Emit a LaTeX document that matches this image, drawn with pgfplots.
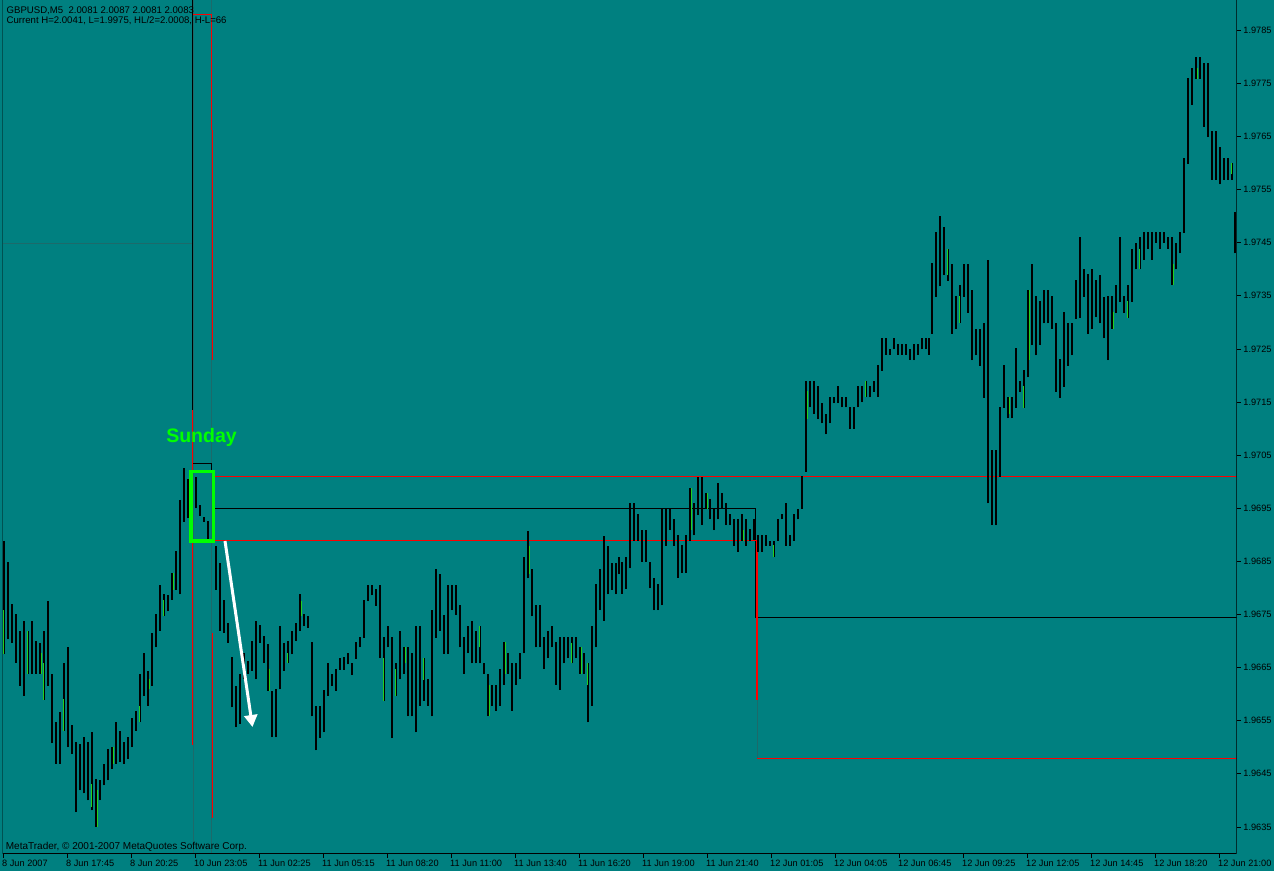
\documentclass[border=0pt]{standalone}
\usepackage{pgfplots}
\pgfplotsset{compat=1.18}
\usepackage{pgfplotstable}
\usepackage{fontspec}
\setmainfont{Liberation Sans}
\usetikzlibrary{arrows.meta}

\definecolor{mtbg}{HTML}{008080}
\definecolor{mtgreen}{HTML}{00FF00}
\definecolor{bargreen}{HTML}{22D022}
\definecolor{mtred}{HTML}{FF0000}
\definecolor{sepline}{HTML}{1C6A6A}

% GBPUSD M5 bars (pairs of bars merged): x position, low, high
\pgfplotstableread{
x lo hi
4.3 1.96675 1.96888
8.3 1.96703 1.96849
12.3 1.96697 1.96769
16.3 1.96659 1.96750
20.3 1.96616 1.96719
24.3 1.96597 1.96738
28.3 1.96638 1.96719
32.3 1.96638 1.96738
36.3 1.96638 1.96700
40.3 1.96638 1.96697
44.3 1.96589 1.96719
48.3 1.96616 1.96776
52.3 1.96508 1.96638
56.3 1.96469 1.96548
60.3 1.96469 1.96566
64.3 1.96531 1.96659
68.3 1.96500 1.96689
72.3 1.96488 1.96541
76.3 1.96378 1.96509
80.3 1.96419 1.96506
84.3 1.96413 1.96519
88.3 1.96400 1.96509
92.3 1.96381 1.96528
96.3 1.96350 1.96441
100.3 1.96400 1.96438
104.3 1.96428 1.96469
108.3 1.96438 1.96497
112.3 1.96459 1.96500
116.3 1.96469 1.96547
120.3 1.96472 1.96531
124.3 1.96469 1.96509
128.3 1.96478 1.96519
132.3 1.96500 1.96556
136.3 1.96531 1.96569
140.3 1.96547 1.96638
144.3 1.96597 1.96678
148.3 1.96578 1.96644
152.3 1.96616 1.96716
156.3 1.96688 1.96750
160.3 1.96719 1.96806
164.3 1.96747 1.96788
168.3 1.96756 1.96786
172.3 1.96778 1.96828
176.3 1.96797 1.96869
180.3 1.96788 1.96966
184.3 1.96925 1.97025
188.3 1.96931 1.97006
196.3 1.96950 1.97009
200.3 1.96936 1.96956
204.3 1.96925 1.96934
208.3 1.96888 1.96926
216.3 1.96797 1.96878
220.3 1.96719 1.96847
224.3 1.96716 1.96778
228.3 1.96697 1.96734
232.3 1.96575 1.96669
236.3 1.96538 1.96616
240.3 1.96544 1.96638
244.3 1.96628 1.96678
248.3 1.96638 1.96663
252.3 1.96644 1.96700
256.3 1.96628 1.96738
260.3 1.96697 1.96731
264.3 1.96659 1.96709
268.3 1.96606 1.96694
272.3 1.96519 1.96606
276.3 1.96519 1.96609
280.3 1.96609 1.96728
284.3 1.96644 1.96697
288.3 1.96659 1.96700
292.3 1.96675 1.96719
296.3 1.96700 1.96734
300.3 1.96719 1.96788
304.3 1.96728 1.96750
308.3 1.96725 1.96747
312.3 1.96558 1.96698
316.3 1.96494 1.96578
320.3 1.96518 1.96578
324.3 1.96528 1.96608
328.3 1.96597 1.96658
332.3 1.96616 1.96638
336.3 1.96606 1.96647
340.3 1.96646 1.96668
344.3 1.96646 1.96669
348.3 1.96656 1.96677
352.3 1.96636 1.96658
356.3 1.96667 1.96698
360.3 1.96688 1.96708
364.3 1.96706 1.96777
368.3 1.96775 1.96806
372.3 1.96786 1.96806
376.3 1.96766 1.96798
380.3 1.96668 1.96806
384.3 1.96588 1.96708
388.3 1.96688 1.96728
392.3 1.96517 1.96708
396.3 1.96597 1.96658
400.3 1.96628 1.96719
404.3 1.96638 1.96689
408.3 1.96558 1.96689
412.3 1.96558 1.96677
416.3 1.96528 1.96728
420.3 1.96578 1.96728
424.3 1.96588 1.96668
428.3 1.96578 1.96628
432.3 1.96558 1.96758
436.3 1.96706 1.96836
440.3 1.96719 1.96826
444.3 1.96676 1.96749
448.3 1.96676 1.96806
452.3 1.96758 1.96806
456.3 1.96749 1.96806
460.3 1.96688 1.96768
464.3 1.96638 1.96708
468.3 1.96677 1.96728
472.3 1.96658 1.96738
476.3 1.96658 1.96718
480.3 1.96658 1.96728
484.3 1.96638 1.96658
488.3 1.96558 1.96638
492.3 1.96578 1.96618
496.3 1.96569 1.96618
500.3 1.96578 1.96647
504.3 1.96618 1.96698
508.3 1.96638 1.96677
512.3 1.96569 1.96658
516.3 1.96618 1.96658
520.3 1.96628 1.96677
524.3 1.96677 1.96858
528.3 1.96818 1.96908
532.3 1.96747 1.96836
536.3 1.96688 1.96767
540.3 1.96688 1.96767
544.3 1.96647 1.96708
548.3 1.96668 1.96718
552.3 1.96688 1.96728
556.3 1.96618 1.96698
560.3 1.96608 1.96708
564.3 1.96658 1.96708
568.3 1.96668 1.96708
572.3 1.96658 1.96708
576.3 1.96668 1.96708
580.3 1.96638 1.96688
584.3 1.96638 1.96678
588.3 1.96547 1.96658
592.3 1.96578 1.96728
596.3 1.96688 1.96808
600.3 1.96758 1.96836
604.3 1.96738 1.96897
608.3 1.96788 1.96878
612.3 1.96797 1.96847
616.3 1.96788 1.96847
619.3 1.96826 1.96858
622.3 1.96789 1.96849
626.3 1.96798 1.96858
630.3 1.96837 1.96959
634.3 1.96889 1.96959
638.3 1.96889 1.96939
642.3 1.96849 1.96909
646.3 1.96849 1.96909
650.3 1.96799 1.96849
654.3 1.96758 1.96818
658.3 1.96758 1.96808
662.3 1.96767 1.96949
666.3 1.96879 1.96949
670.3 1.96909 1.96949
674.3 1.96879 1.96929
678.3 1.96819 1.96899
682.3 1.96829 1.96880
686.3 1.96829 1.96899
690.3 1.96889 1.96989
694.3 1.96899 1.96959
698.3 1.96937 1.97009
702.3 1.96918 1.97009
706.3 1.96949 1.96979
710.3 1.96929 1.96968
714.3 1.96909 1.96949
718.3 1.96929 1.96998
722.3 1.96949 1.96979
726.3 1.96918 1.96959
730.3 1.96918 1.96939
734.3 1.96879 1.96929
738.3 1.96868 1.96929
742.3 1.96889 1.96939
746.3 1.96879 1.96929
750.3 1.96889 1.96910
754.3 1.96890 1.96929
758.3 1.96868 1.96899
762.3 1.96868 1.96899
766.3 1.96879 1.96899
770.3 1.96879 1.96889
774.3 1.96858 1.96889
778.3 1.96889 1.96929
782.3 1.96929 1.96939
786.3 1.96879 1.96959
790.3 1.96879 1.96899
794.3 1.96889 1.96939
798.3 1.96929 1.96949
802.3 1.96949 1.97010
806.3 1.97019 1.97189
810.3 1.97140 1.97189
814.3 1.97128 1.97189
818.3 1.97118 1.97180
822.3 1.97110 1.97148
826.3 1.97089 1.97128
830.3 1.97110 1.97159
834.3 1.97148 1.97159
838.3 1.97148 1.97180
842.3 1.97140 1.97160
846.3 1.97140 1.97159
850.3 1.97100 1.97140
854.3 1.97100 1.97140
858.3 1.97140 1.97180
862.3 1.97150 1.97180
866.3 1.97159 1.97189
870.3 1.97159 1.97180
874.3 1.97169 1.97189
878.3 1.97160 1.97219
882.3 1.97209 1.97270
886.3 1.97239 1.97270
890.3 1.97239 1.97249
894.3 1.97249 1.97270
898.3 1.97239 1.97259
902.3 1.97239 1.97259
906.3 1.97239 1.97259
910.3 1.97230 1.97249
914.3 1.97229 1.97259
918.3 1.97239 1.97259
922.3 1.97249 1.97270
926.3 1.97249 1.97270
929.3 1.97239 1.97270
932.3 1.97279 1.97411
936.3 1.97348 1.97471
940.3 1.97368 1.97500
944.3 1.97389 1.97480
948.3 1.97378 1.97439
952.3 1.97279 1.97410
956.3 1.97288 1.97349
960.3 1.97298 1.97370
964.3 1.97348 1.97410
968.3 1.97318 1.97410
972.3 1.97229 1.97361
976.3 1.97238 1.97288
980.3 1.97218 1.97288
984.3 1.97158 1.97299
988.3 1.96959 1.97418
992.3 1.96918 1.97059
996.3 1.96918 1.97059
1000.3 1.97009 1.97141
1004.3 1.97139 1.97219
1008.3 1.97119 1.97160
1012.3 1.97119 1.97160
1016.3 1.97139 1.97251
1020.3 1.97169 1.97190
1024.3 1.97139 1.97210
1028.3 1.97197 1.97361
1032.3 1.97257 1.97410
1036.3 1.97238 1.97349
1040.3 1.97257 1.97340
1044.3 1.97298 1.97361
1048.3 1.97298 1.97361
1052.3 1.97288 1.97349
1056.3 1.97169 1.97299
1060.3 1.97158 1.97231
1064.3 1.97179 1.97320
1068.3 1.97218 1.97299
1072.3 1.97238 1.97299
1076.3 1.97307 1.97380
1080.3 1.97309 1.97460
1084.3 1.97348 1.97400
1088.3 1.97279 1.97392
1092.3 1.97288 1.97400
1096.3 1.97310 1.97380
1100.3 1.97298 1.97389
1104.3 1.97270 1.97348
1108.3 1.97229 1.97349
1112.3 1.97288 1.97349
1116.3 1.97318 1.97370
1120.3 1.97339 1.97460
1124.3 1.97318 1.97349
1128.3 1.97309 1.97370
1132.3 1.97339 1.97439
1136.3 1.97400 1.97450
1140.3 1.97400 1.97460
1144.3 1.97418 1.97470
1148.3 1.97439 1.97470
1152.3 1.97418 1.97470
1156.3 1.97450 1.97470
1160.3 1.97439 1.97470
1164.3 1.97450 1.97470
1168.3 1.97439 1.97460
1172.3 1.97370 1.97460
1176.3 1.97400 1.97450
1180.3 1.97430 1.97470
1184.3 1.97469 1.97610
1188.3 1.97599 1.97760
1192.3 1.97709 1.97779
1196.3 1.97759 1.97799
1200.3 1.97759 1.97799
1204.3 1.97668 1.97789
1208.3 1.97649 1.97789
1212.3 1.97569 1.97661
1216.3 1.97569 1.97661
1220.3 1.97560 1.97631
1224.3 1.97569 1.97610
1228.3 1.97569 1.97610
1232.3 1.97569 1.97600
1235.3 1.97430 1.97508
}\bars

% bars drawn in green
\pgfplotstableread{
x lo hi
3.3 1.96675 1.96759
27.3 1.96638 1.96719
41.3 1.96638 1.96678
43.3 1.96589 1.96659
63.3 1.96531 1.96591
91.3 1.96388 1.96431
97.3 1.96350 1.96419
113.3 1.96469 1.96500
139.3 1.96547 1.96578
149.3 1.96609 1.96628
163.3 1.96747 1.96778
173.3 1.96797 1.96828
269.3 1.96606 1.96647
287.3 1.96659 1.96678
301.3 1.96747 1.96776
383.3 1.96588 1.96668
395.3 1.96597 1.96647
405.3 1.96658 1.96689
423.3 1.96627 1.96668
479.3 1.96688 1.96728
489.3 1.96558 1.96618
505.3 1.96638 1.96698
529.3 1.96826 1.96878
571.3 1.96658 1.96697
581.3 1.96638 1.96688
587.3 1.96618 1.96658
691.3 1.96909 1.96989
707.3 1.96949 1.96979
743.3 1.96889 1.96909
773.3 1.96858 1.96880
807.3 1.97118 1.97170
865.3 1.97160 1.97189
947.3 1.97389 1.97439
959.3 1.97298 1.97349
1009.3 1.97128 1.97160
1023.3 1.97139 1.97180
1029.3 1.97229 1.97361
1113.3 1.97288 1.97320
1127.3 1.97309 1.97340
1139.3 1.97400 1.97439
1173.3 1.97370 1.97410
1197.3 1.97759 1.97779
1231.3 1.97579 1.97600
}\greenbars

\begin{document}
\begin{tikzpicture}
\fill[mtbg] (-2.5bp,-17bp) rectangle (1271.5bp,854bp);
\path[use as bounding box] (-2.5bp,-17bp) rectangle (1271.5bp,854bp);
\begin{axis}[
    at={(0,0)}, anchor=south west,
    scale only axis, width=1234.2bp, height=854bp,
    xmin=2.5, xmax=1236.7, ymin=1.96299, ymax=1.97907,
    axis line style={draw=none},
    xtick pos=bottom, ytick pos=right,
    tick align=outside, major tick length=4bp,
    tick style={black, line width=0.8bp},
    xtick={3,67,131,195,259,323,387,451,515,579,643,707,771,835,899,963,1027,1091,1155,1219},
    xticklabels={8 Jun 2007,8 Jun 17:45,8 Jun 20:25,10 Jun 23:05,11 Jun 02:25,11 Jun 05:15,11 Jun 08:20,11 Jun 11:00,11 Jun 13:40,11 Jun 16:20,11 Jun 19:00,11 Jun 21:40,12 Jun 01:05,12 Jun 04:05,12 Jun 06:45,12 Jun 09:25,12 Jun 12:05,12 Jun 14:45,12 Jun 18:20,12 Jun 21:00},
    ytick={1.9635,1.9645,1.9655,1.9665,1.9675,1.9685,1.9695,1.9705,1.9715,1.9725,1.9735,1.9745,1.9755,1.9765,1.9775,1.9785},
    yticklabels={1.9635,1.9645,1.9655,1.9665,1.9675,1.9685,1.9695,1.9705,1.9715,1.9725,1.9735,1.9745,1.9755,1.9765,1.9775,1.9785},
    yticklabel pos=right,
    tick label style={font=\fontsize{9.2bp}{10bp}\selectfont, black, inner sep=0pt},
    xticklabel style={anchor=north west, xshift=-1bp, yshift=-1.5bp},
    yticklabel style={anchor=west, xshift=2.5bp},
    clip=true,
]
% indicator levels
\addplot[sepline, line width=0.8bp] coordinates {(2.5,1.97449) (192,1.97449)};
\addplot[sepline, line width=0.8bp] coordinates {(193.5,1.97907) (193.5,1.96299)};
\addplot[sepline, line width=0.8bp] coordinates {(211.5,1.97907) (211.5,1.96299)};
\addplot[sepline, line width=0.8bp] coordinates {(757,1.96589) (757,1.96479)};
\addplot[black, line width=0.9bp] coordinates {(192.5,1.97907) (192.5,1.97035) (211.5,1.97035) (211.5,1.97020)};
\addplot[mtred, line width=0.9bp] coordinates {(193,1.97880) (211.5,1.97880) (211.5,1.97662)};
\addplot[mtred, line width=1.3bp] coordinates {(192.5,1.97135) (192.5,1.96504)};
\addplot[mtred, line width=1.3bp] coordinates {(212.5,1.97662) (212.5,1.97229)};
\addplot[mtred, line width=1.3bp] coordinates {(212.5,1.96715) (212.5,1.96367)};
\addplot[mtred, line width=1.2bp] coordinates {(214,1.97010) (1236.7,1.97010)};
\addplot[black, line width=0.9bp] coordinates {(214,1.96950) (755.5,1.96950) (755.5,1.96745) (1236.7,1.96745)};
\addplot[mtred, line width=1.2bp] coordinates {(214,1.96890) (757,1.96890) (757,1.96589)};
\addplot[mtred, line width=1.2bp] coordinates {(757,1.96479) (1236.7,1.96479)};
% price bars
\addplot[black, only marks, mark=*, mark size=0pt, mark options={draw=none, fill=none},
    error bars/.cd, y dir=plus, y explicit, error mark=none,
    error bar style={black, line width=1.9bp}]
    table[x=x, y=lo, y error expr=\thisrow{hi}-\thisrow{lo}] {\bars};
\addplot[bargreen, only marks, mark=*, mark size=0pt, mark options={draw=none, fill=none},
    error bars/.cd, y dir=plus, y explicit, error mark=none,
    error bar style={bargreen, line width=1.2bp}]
    table[x=x, y=lo, y error expr=\thisrow{hi}-\thisrow{lo}] {\greenbars};
\draw[black, line width=1bp] (rel axis cs:0,1) -- (rel axis cs:0,0) -- (rel axis cs:1,0) -- (rel axis cs:1,1);
\end{axis}
% annotations (image px: x-2.5, 854-y)
\draw[mtgreen, line width=3.5bp] (188.25bp,382.25bp) rectangle (210.75bp,312.75bp);
\draw[white, line width=3bp, -{Triangle[width=13bp,length=12bp]}] (222.5bp,313bp) -- (250bp,127bp);
\node[anchor=center, text=mtgreen, font=\fontsize{19.5bp}{22bp}\selectfont\bfseries, inner sep=0pt] at (199bp,416.5bp) {Sunday};
\node[anchor=base west, inner sep=0pt, font=\fontsize{9.6bp}{10bp}\selectfont] at (4bp,840.7bp) {GBPUSD,M5\ \ 2.0081 2.0087 2.0081 2.0083};
\node[anchor=base west, inner sep=0pt, font=\fontsize{9.6bp}{10bp}\selectfont] at (4bp,830bp) {Current H=2.0041, L=1.9975, HL/2=2.0008, H-L=66};
\node[anchor=base west, inner sep=0pt, font=\fontsize{10bp}{11bp}\selectfont] at (3.2bp,5bp) {MetaTrader, © 2001-2007 MetaQuotes Software Corp.};
\end{tikzpicture}
\end{document}
